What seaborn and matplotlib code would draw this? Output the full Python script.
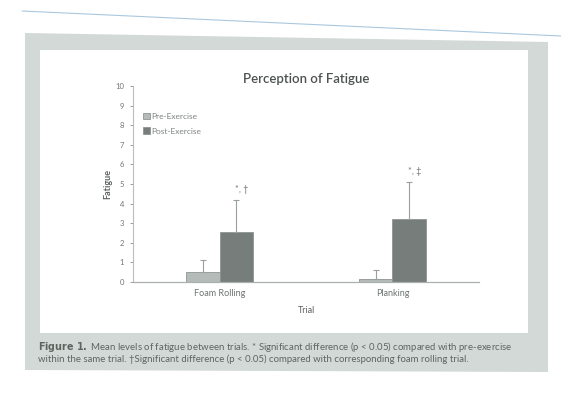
import matplotlib
matplotlib.use("Agg")
import matplotlib.pyplot as plt
from matplotlib.patches import Rectangle, Polygon
import numpy as np
import pandas as pd
import seaborn as sns

# Data
trials = ["Foam Rolling", "Planking"]
phases = ["Pre-Exercise", "Post-Exercise"]
pre_mean = [0.5, 0.15]
pre_sd = [0.6, 0.45]
post_mean = [2.55, 3.2]
post_sd = [1.65, 1.9]
post_marks = ["*, \u2020", "*, \u2021"]
y_ticks = list(range(0, 11))

title = "Perception of Fatigue"
x_label = "Trial"
y_label = "Fatigue"
caption_lines = [
    r"$\bf{Figure\ 1.}$ Mean levels of fatigue between trials. * Significant difference (p < 0.05) compared with pre-exercise",
    "within the same trial. \u2020Significant difference (p < 0.05) compared with corresponding foam rolling trial.",
]

df = pd.DataFrame({
    "Trial": trials * 2,
    "Phase": [phases[0]] * 2 + [phases[1]] * 2,
    "Fatigue": pre_mean + post_mean,
})

sns.set_theme(style="white")
plt.rcParams["font.family"] = ["Lato", "DejaVu Sans"]

fig = plt.figure(figsize=(5.61, 4.01), dpi=100)
fig.patch.set_facecolor("white")

# Printed page frame: grey border with a white plotting panel
frame_col = "#d2d9d6"
fig.patches.append(Polygon([(25 / 561, 1 - 33 / 401), (548 / 561, 1 - 42 / 401),
                            (548 / 561, 1 - 372 / 401), (25 / 561, 1 - 370 / 401)],
                           closed=True, transform=fig.transFigure,
                           facecolor=frame_col, edgecolor="none", zorder=-3))
fig.patches.append(Rectangle((40 / 561, 1 - 333 / 401), (528 - 40) / 561, (333 - 50) / 401,
                             transform=fig.transFigure, facecolor="white",
                             edgecolor="none", zorder=-2))
fig.lines.append(plt.Line2D([22 / 561, 561 / 561], [1 - 11 / 401, 1 - 36 / 401],
                            transform=fig.transFigure, color="#a9c8e0", lw=0.8,
                            zorder=-1))

ax = fig.add_axes([133 / 561, 1 - 282 / 401, (479 - 133) / 561, (282 - 86) / 401])
ax.set_facecolor("none")
ax.set_zorder(1)

sns.barplot(data=df, x="Trial", y="Fatigue", hue="Phase", hue_order=phases,
            order=trials, palette=["#b4bcb8", "#767e7a"], width=0.39,
            errorbar=None, edgecolor="#8e9692", linewidth=0.6, ax=ax, zorder=2)

# Upward error bars and significance marks
for container, means, sds in zip(ax.containers, [pre_mean, post_mean], [pre_sd, post_sd]):
    xs = [b.get_x() + b.get_width() / 2 for b in container]
    ax.errorbar(xs, means, yerr=[np.zeros(len(sds)), sds], fmt="none",
                ecolor="#9aa09d", elinewidth=0.8, capsize=2, capthick=0.8, zorder=3)
post_x = [b.get_x() + b.get_width() / 2 for b in ax.containers[1]]
for x, m, s, mark in zip(post_x, post_mean, post_sd, post_marks):
    ax.text(x + 0.03, m + s + 0.3, mark, ha="center", va="bottom",
            fontsize=6.5, color="#6f7572")

ax.set_xlim(-0.5, 1.5)
ax.set_ylim(0, 10)
ax.set_yticks(y_ticks)
ax.tick_params(axis="y", labelsize=5.5, colors="#8a8f8c", length=2.5, width=0.6,
               direction="out", left=True, pad=4)
ax.tick_params(axis="x", labelsize=6.5, colors="#6f7572", length=0, pad=5)
for lab in ax.get_yticklabels():
    lab.set_color("#6f7572")
sns.despine(ax=ax, top=True, right=True)
ax.spines["left"].set_color("#b9bebb")
ax.spines["left"].set_linewidth(0.8)
ax.spines["bottom"].set_color("#aab0ad")
ax.spines["bottom"].set_linewidth(0.9)

ax.set_xlabel(x_label, fontsize=6.5, color="#5e6360", labelpad=6)
ax.set_ylabel(y_label, fontsize=6.5, color="#5e6360", labelpad=2, fontweight="bold")
ax.set_title(title, fontsize=9.5, color="#4d524f", pad=2, fontweight="semibold")

leg = ax.legend(loc="upper left", bbox_to_anchor=(0.02, 0.88), frameon=False,
                fontsize=6, handlelength=0.8, handleheight=0.8, handletextpad=0.2,
                labelspacing=0.9, borderaxespad=0)
for t in leg.get_texts():
    t.set_color("#7f8481")

# Caption in the grey band under the panel
for i, line in enumerate(caption_lines):
    fig.text(38 / 561, 1 - (347 + 12 * i) / 401, line, fontsize=6.9,
             color="#5f6461", ha="left", va="center")

fig.savefig("out.png", dpi=100, facecolor="white")
